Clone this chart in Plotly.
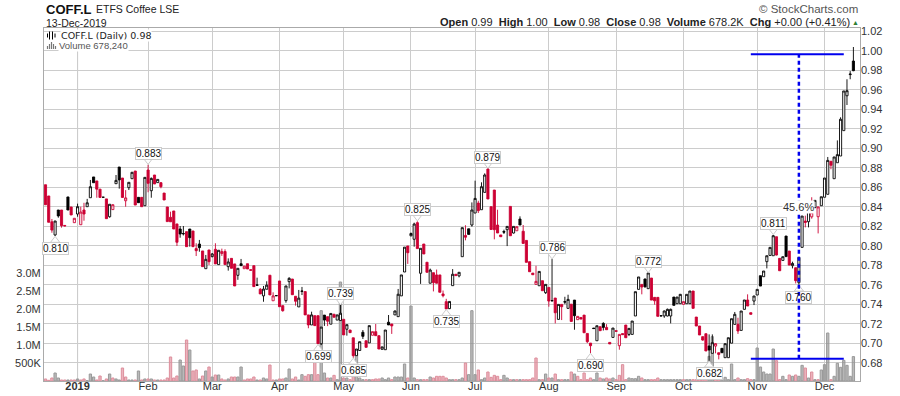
import pandas as pd
import plotly.graph_objects as go

# ---- data -----------------------------------------------------------------------
holidays = ["2018-12-25", "2018-12-26", "2019-01-01", "2019-04-19", "2019-04-22",
            "2019-05-06", "2019-05-27", "2019-08-26"]
dates = [d.strftime("%Y-%m-%d") for d in pd.bdate_range("2018-12-14", "2019-12-13")
         if d.strftime("%Y-%m-%d") not in holidays]

opens = [.8625,.851,.8245,.811,.8366,.8366,.8208,.85,.8397,.8236,.8325,.8215,.8366,.84,.8492,.8705,.8664,.858,.8497,.848,
 .8297,.837,.8636,.8807,.8694,.8461,.8595,.8687,.8766,.8496,.8496,.841,.8776,.8564,.8725,.8647,.8646,.854,.8397,.8291,
 .8356,.8223,.8171,.8124,.8144,.8171,.8151,.797,.8017,.7946,.7764,.7956,.7888,.7963,.7806,.792,.794,.7785,.787,.7813,
 .7696,.7815,.7764,.7815,.7753,.7795,.7597,.7553,.7485,.7553,.7697,.7435,.7488,.7638,.7385,.7436,.7631,.7658,.7481,.7372,
 .7535,.7529,.729,.7187,.7282,.7282,.6994,.7288,.7272,.7195,.7297,.7237,.7232,.7245,.7143,.7135,.7055,.6872,.6925,.7112,
 .7025,.7003,.7081,.7118,.7077,.6937,.6933,.7215,.7197,.729,.7272,.7485,.773,.7997,.8102,.8066,.8236,.7717,.8017,.783,
 .7615,.7723,.77,.77,.7505,.7426,.7354,.759,.7707,.769,.7887,.8105,.8173,.8212,.8335,.8437,.8369,.8547,.8786,.84,
 .8571,.8212,.811,.8146,.8164,.8403,.813,.8153,.8273,.8148,.8054,.7836,.7719,.7603,.7589,.7641,.7518,.7572,.7437,.7463,
 .7244,.7398,.7426,.7357,.74,.7442,.7241,.7264,.7288,.71,.7001,.7155,.7025,.7169,.7203,.7162,.7008,.7059,.7128,.6974,
 .7098,.7186,.709,.709,.7279,.7552,.7603,.7658,.7559,.7668,.747,.747,.7281,.7279,.7279,.7279,.7473,.7405,.7405,.7398,
 .7405,.7405,.7535,.7268,.7176,.7067,.7097,.6971,.6896,.697,.6902,.6947,.6851,.6851,.7,.7193,.7193,.7131,.7347,.7443,
 .7313,.7432,.7494,.7692,.7682,.7836,.79,.7897,.8092,.787,.7849,.8099,.7945,.7795,.7774,.762,.7983,.8253,.8246,.8296,
 .839,.8297,.841,.8497,.8527,.8866,.8687,.8851,.892,.918,.9538,.9755,.9894]
highs = [.8625,.851,.8274,.8255,.8366,.8366,.8208,.85,.8397,.8281,.8431,.84,.844,.848,.8674,.8705,.8664,.858,.8497,.848,
 .8425,.8425,.8725,.8807,.8694,.857,.865,.8753,.8766,.8496,.8496,.8701,.883,.87,.8725,.868,.8653,.854,.8397,.8349,
 .8356,.8223,.8202,.8202,.8144,.8171,.8151,.8025,.8059,.7946,.7905,.7956,.7925,.8025,.7953,.797,.7963,.787,.787,.7813,
 .7768,.7864,.779,.7815,.7753,.7795,.7672,.7565,.7587,.7635,.7697,.7522,.7488,.7638,.7385,.7587,.7677,.7658,.7481,.7546,
 .7577,.7529,.729,.7323,.7282,.7282,.7165,.7288,.7272,.7305,.7297,.729,.7392,.7245,.719,.7135,.7055,.694,.7015,.7135,
 .7025,.718,.7118,.7197,.7077,.6962,.7135,.7289,.7197,.7335,.7556,.77,.7985,.7997,.8135,.8236,.825,.7973,.8017,.783,
 .7765,.7723,.7755,.77,.754,.7455,.7428,.776,.7707,.7727,.8185,.821,.8173,.8444,.8667,.8461,.865,.8742,.8797,.84,
 .8571,.8369,.811,.8164,.8198,.8403,.8198,.8195,.8301,.8212,.8054,.7836,.7719,.7794,.7736,.7641,.7603,.7572,.7863,.7463,
 .7398,.7398,.7476,.7497,.74,.7442,.7275,.7264,.7288,.71,.7001,.7155,.7179,.7169,.7215,.7195,.7008,.7155,.7128,.709,
 .7098,.7186,.7152,.7227,.7528,.7679,.7603,.7662,.772,.7668,.747,.747,.7281,.7335,.7355,.7355,.7473,.7473,.7505,.7426,
 .7501,.7535,.7535,.7268,.7176,.7067,.7097,.709,.709,.7,.6902,.6947,.6995,.7056,.7251,.732,.7261,.733,.7443,.7501,
 .7313,.7484,.7552,.7692,.774,.7897,.7983,.811,.8092,.787,.7887,.8099,.7945,.7836,.7774,.788,.8304,.8308,.8352,.8497,
 .8465,.8398,.8502,.8694,.891,.8866,.891,.908,.9317,.9587,.9707,.9791,1.0038]
lows = [.842,.824,.8133,.810,.8287,.8185,.82,.8366,.8315,.8236,.8297,.8215,.8256,.84,.8492,.8646,.8492,.8492,.8497,.8277,
 .8287,.837,.8636,.8585,.849,.84,.8571,.8687,.8417,.8441,.84,.841,.8548,.8492,.8633,.8647,.8589,.8469,.8246,.8245,
 .8171,.7997,.8082,.8105,.799,.799,.799,.7894,.7938,.7785,.7764,.7802,.788,.7813,.7806,.7895,.7806,.7744,.7768,.7587,
 .765,.7795,.7764,.7761,.7749,.758,.7595,.7505,.7425,.7553,.7495,.7435,.7486,.7374,.7323,.7415,.7562,.7497,.7385,.7372,
 .7494,.729,.7153,.7187,.718,.699,.698,.7177,.7175,.7195,.7266,.7237,.7232,.7085,.7077,.7108,.685,.6872,.6925,.7043,
 .6957,.7003,.7081,.7077,.694,.6937,.6933,.7187,.7095,.729,.7272,.7485,.773,.7813,.8095,.799,.797,.7608,.7915,.7727,
 .7615,.7531,.7615,.7522,.747,.7351,.735,.759,.7693,.7675,.7887,.8055,.8116,.8195,.8335,.8335,.8369,.8547,.8479,.8166,
 .8065,.813,.8092,.812,.7996,.8102,.8125,.8153,.8212,.8023,.7829,.7733,.7702,.7603,.7589,.7538,.7505,.7374,.743,.7203,
 .7244,.7237,.74,.7357,.7223,.7138,.7241,.7247,.7107,.7001,.6895,.7148,.7025,.7128,.713,.7138,.6992,.7059,.7122,.6933,
 .7085,.7056,.7073,.709,.7279,.7552,.7501,.757,.7559,.7442,.7395,.7275,.7279,.726,.7275,.7203,.7388,.7405,.7405,.7398,
 .7405,.7405,.7357,.7176,.7084,.7025,.692,.682,.6896,.6896,.6834,.6902,.6851,.6851,.7,.7193,.7095,.7131,.7347,.7381,
 .7296,.7391,.7494,.7586,.7682,.7767,.79,.7897,.79,.7743,.7849,.7887,.7801,.7767,.7613,.76,.7983,.8188,.8188,.8277,
 .839,.8126,.841,.8497,.8527,.8784,.8687,.8851,.892,.918,.9443,.9707,.979]
closes = [.842,.824,.816,.8253,.8305,.8205,.8203,.8366,.8315,.8281,.84,.8345,.8325,.844,.8605,.8646,.858,.8495,.8497,.8277,
 .8425,.842,.867,.8675,.8495,.849,.865,.8753,.8417,.8441,.84,.8701,.864,.869,.8633,.868,.8605,.8469,.8247,.8245,
 .8171,.8035,.812,.8123,.799,.8082,.799,.7949,.798,.7785,.786,.7836,.7915,.7813,.7953,.794,.7806,.7833,.7768,.7587,
 .7768,.7795,.779,.7761,.7749,.758,.7595,.7505,.7555,.7595,.7495,.7485,.7487,.7374,.7333,.7587,.7665,.7497,.743,.7462,
 .7532,.729,.7187,.729,.718,.6995,.7165,.7237,.7225,.7305,.7266,.729,.7307,.7085,.719,.7108,.6872,.694,.7015,.707,
 .6957,.718,.7118,.7077,.694,.6962,.7135,.7187,.7177,.733,.7502,.77,.7985,.7928,.8125,.8222,.797,.7973,.7915,.7727,
 .775,.7621,.7615,.7522,.7487,.7351,.7428,.7707,.7693,.7727,.8185,.8087,.8116,.8366,.8485,.8359,.8605,.8725,.8479,.8166,
 .8164,.813,.8092,.8139,.8198,.8102,.8198,.8195,.8212,.8023,.7829,.7733,.7702,.7634,.7736,.7538,.7603,.7432,.7435,.7312,
 .7398,.7374,.7422,.7449,.7223,.7282,.7275,.7247,.7107,.7015,.6974,.715,.7179,.7128,.7162,.7138,.6992,.7155,.7122,.709,
 .7088,.7056,.7152,.7227,.7528,.7679,.7576,.7578,.772,.7442,.7435,.7275,.728,.733,.7347,.7347,.7388,.7473,.7501,.7426,
 .7501,.7535,.7357,.7176,.7084,.7032,.692,.693,.7005,.6995,.6885,.6902,.6995,.7056,.7251,.7296,.7125,.733,.7443,.7381,
 .7296,.7484,.7552,.7586,.774,.7897,.7983,.8102,.7904,.7743,.7887,.7888,.7801,.7818,.7641,.788,.8304,.8239,.8352,.8345,
 .8465,.8398,.8502,.8694,.8875,.8825,.891,.8934,.9297,.9587,.959,.976,.9795]
volumes_k = [56,19,83,222,83,28,28,28,28,28,56,28,56,9,194,111,28,139,9,56,
 194,83,56,28,361,111,28,28,28,278,28,56,56,56,28,28,28,28,83,667,
 83,139,583,417,1139,861,278,306,56,139,278,389,111,167,167,56,28,56,111,111,
 111,389,28,56,56,111,28,28,83,56,444,28,28,56,56,83,333,56,111,28,
 176,130,176,176,528,176,1954,222,83,83,157,37,2750,83,83,37,176,778,83,37,
 37,37,37,56,56,83,37,83,37,111,111,111,472,83,2083,83,37,37,37,37,
 111,83,130,130,130,83,37,37,37,37,83,500,176,1954,176,306,37,83,250,102,
 157,130,37,157,83,37,37,37,37,37,37,37,83,639,37,37,194,83,83,194,
 37,37,37,37,250,194,130,37,222,37,83,37,222,83,56,83,56,83,37,157,
 454,37,83,65,65,130,83,37,37,37,37,83,37,37,37,37,37,37,37,37,
 37,37,37,37,37,37,83,685,1232,176,37,37,102,37,472,37,83,37,37,65,
 37,37,917,389,250,194,194,889,565,37,130,37,167,130,167,130,435,361,83,250,
 37,37,306,454,1333,37,130,491,380,574,435,130,678]

month_ticks = ["2019-01-02", "2019-02-01", "2019-03-01", "2019-04-01", "2019-05-01", "2019-06-03",
               "2019-07-01", "2019-08-01", "2019-09-02", "2019-10-01", "2019-11-01", "2019-12-02"]
month_labels = ["<b>2019</b>", "Feb", "Mar", "Apr", "May", "Jun", "Jul", "Aug", "Sep", "Oct", "Nov", "Dec"]
volume_ticks = [500e3, 1e6, 1.5e6, 2e6, 2.5e6, 3e6]
volume_labels = ["500K", "1.0M", "1.5M", "2.0M", "2.5M", "3.0M"]

high_callouts = {32: .883, 92: .739, 116: .825, 138: .879, 158: .786, 188: .772, 227: .811}
low_callouts = {3: .810, 85: .699, 96: .685, 125: .735, 170: .690, 207: .682, 235: .760}

measure_low = .684
measure_high = .9965
measure_pct = "45.6%"
measure_days = ["2019-10-30", "2019-11-20", "2019-12-10"]

# ---- styles ----------------------------------------------------------------------
RED = "#cc0033"
GRID = "#cccccc"
BORDER = "#aaaaaa"
FONT = "Liberation Sans"
W, H, L, R, T, B = 900, 396, 44, 40, 28, 15
def px(x): return (x - L) / (W - L - R)
def py(y): return 1 - (y - T) / (H - T - B)

is_up = [True if i > 0 and closes[i] >= closes[i - 1] else False for i in range(len(closes))]
is_hollow = [c > o for o, c in zip(opens, closes)]

fig = go.Figure()
fig.add_trace(go.Bar(
    x=dates, y=[v * 1000 for v in volumes_k], yaxis="y", width=0.72, hoverinfo="skip",
    marker=dict(color=["rgba(130,130,130,.55)" if u else "rgba(222,130,145,.6)" for u in is_up],
                line=dict(color=["#999999" if u else "#dd8e9c" for u in is_up], width=1))))

def candles(up, hollow):
    pick = [u == up and h == hollow for u, h in zip(is_up, is_hollow)]
    sel = lambda arr: [a if p else None for a, p in zip(arr, pick)]
    colour = "#000000" if up else RED
    fill = "#ffffff" if hollow else colour
    side = dict(line=dict(color=colour, width=0.9), fillcolor=fill)
    fig.add_trace(go.Candlestick(x=dates, open=sel(opens), high=sel(highs), low=sel(lows), close=sel(closes),
                                 yaxis="y2", increasing=side, decreasing=side, whiskerwidth=0,
                                 showlegend=False, hoverinfo="skip"))

for up in (True, False):
    for hollow in (True, False):
        candles(up, hollow)

# callout pointers
hi = sorted(high_callouts)
lo = sorted(low_callouts)
for keys, table, sign, sym in ((hi, high_callouts, 1, "triangle-down"), (lo, low_callouts, -1, "triangle-up")):
    fig.add_trace(go.Scatter(x=[dates[i] for i in keys], y=[table[i] + sign * .0045 for i in keys], yaxis="y2",
                             mode="markers", hoverinfo="skip",
                             marker=dict(symbol=sym, size=8, color="white", line=dict(color=GRID, width=1))))

# measurement lines
fig.add_trace(go.Scatter(x=[measure_days[1], measure_days[1]], y=[measure_low, measure_high], yaxis="y2", mode="lines",
                         line=dict(color="#0000ee", width=2.5, dash="4px,3px"), hoverinfo="skip"))
for level in (measure_low, measure_high):
    fig.add_trace(go.Scatter(x=[measure_days[0], measure_days[2]], y=[level, level], yaxis="y2", mode="lines",
                             line=dict(color="#0000ee", width=2), hoverinfo="skip"))

ann = []
def txt(x, y, text, size=11, color="#222222", anchor="left", bg=None, family=FONT):
    ann.append(dict(xref="paper", yref="paper", x=px(x), y=py(y), text=text, showarrow=False, xanchor=anchor,
                    yanchor="middle", font=dict(family=family, size=size, color=color),
                    bgcolor=bg, borderpad=0))

# callout boxes
def callout(i, value, up):
    ann.append(dict(xref="x", yref="y2", x=dates[i], y=value, text=f"{value:.3f}", showarrow=False,
                    yanchor="bottom" if up else "top", yshift=5 if up else -6,
                    font=dict(family=FONT, size=10, color="#111111"),
                    bgcolor="rgba(255,255,255,0)" if i == 235 else "white",
                    bordercolor=GRID, borderwidth=1, borderpad=0))
for i in hi: callout(i, high_callouts[i], True)
for i in lo: callout(i, low_callouts[i], False)

ann.append(dict(xref="x", yref="y2", x=measure_days[1], y=.84, text=measure_pct, showarrow=False,
                font=dict(family=FONT, size=11, color="#333333"), bgcolor="white", borderpad=0))

txt(44.5, 9.5, "<b>COFF.L</b>", size=13, color="#111111")
txt(94.5, 9.5, "ETFS Coffee LSE", size=10.5)
txt(44.5, 22.5, "13-Dec-2019", size=10.5)
txt(851, 22.3, "<b>Open</b> 0.99&nbsp;&nbsp;<b>High</b> 1.00&nbsp;&nbsp;<b>Low</b> 0.98&nbsp;&nbsp;<b>Close</b> 0.98&nbsp;&nbsp;"
    "<b>Volume</b> 678.2K&nbsp;&nbsp;<b>Chg</b> +0.00 (+0.41%)", size=11, anchor="right")
txt(859.5, 22.5, "▲", size=7, color="#2e7d32", anchor="right")
txt(859, 9.5, "© StockCharts.com", size=11.5, color="#555555", anchor="right")
txt(60, 35.5, "COFF.L (Daily) 0.98", size=9.5, color="#222222", bg="white", family="DejaVu Sans")
txt(58, 45.7, "Volume 678,240", size=9.5, color="#555555", bg="white")

shapes = [
    dict(type="rect", xref="paper", yref="paper", x0=px(45), x1=px(167), y0=py(40), y1=py(29.5),
         fillcolor="white", line_width=0, layer="between"),
    dict(type="rect", xref="paper", yref="paper", x0=px(45), x1=px(127), y0=py(50), y1=py(40),
         fillcolor="white", line_width=0, layer="between"),
    dict(type="line", xref="x", yref="paper", x0=month_ticks[0], x1=month_ticks[0], y0=0, y1=1,
         line=dict(color="#999999", width=1), layer="below"),
]
for x0, h_px in ((47.5, 4), (49.5, 8), (52.5, 8), (55, 4)):
    shapes.append(dict(type="line", xref="paper", yref="paper", x0=px(x0), x1=px(x0),
                       y0=py(35.5 + h_px / 2), y1=py(35.5 - h_px / 2), line=dict(color="#000000", width=1)))
for x0, h_px in ((47.5, 3), (49.5, 5), (51.5, 7), (53.5, 5), (55.5, 3)):
    shapes.append(dict(type="line", xref="paper", yref="paper", x0=px(x0), x1=px(x0),
                       y0=py(49), y1=py(49 - h_px), line=dict(color="#777777", width=1.2)))

fig.update_layout(
    width=W, height=H, autosize=False, margin=dict(l=L, r=R, t=T, b=B), showlegend=False,
    paper_bgcolor="white", plot_bgcolor="white", font=dict(family=FONT, size=11, color="#333333"),
    annotations=ann, shapes=shapes, barmode="overlay", boxgap=0.05,
    xaxis=dict(type="category", categoryorder="array", categoryarray=dates, range=[-0.468, 254.06], automargin=False,
               tickmode="array", tickvals=month_ticks, ticktext=month_labels, tickangle=0, ticklabelstandoff=-5,
               showgrid=True, gridcolor=GRID, gridwidth=1, rangeslider=dict(visible=False),
               showline=True, mirror=True, linecolor=BORDER, ticks="", ticklen=0, tickfont=dict(size=11, color="#333333")),
    yaxis=dict(side="left", range=[0, 9.806e6], tickmode="array", tickvals=volume_ticks, ticktext=volume_labels,
               automargin=False, showgrid=False, zeroline=False, showline=True, mirror=True, linecolor=BORDER,
               tickfont=dict(size=11, color="#333333"), ticks=""),
    yaxis2=dict(side="right", overlaying="y", range=[.6612, 1.0233], tick0=.68, dtick=.02, tickformat=".2f", automargin=False,
                showgrid=True, gridcolor=GRID, gridwidth=1, zeroline=False, ticks="",
                tickfont=dict(size=11, color="#333333")),
)
fig.write_html("out.html", config=dict(displayModeBar=False),
               post_script="document.body.style.margin='0';document.documentElement.style.overflow='hidden';")
